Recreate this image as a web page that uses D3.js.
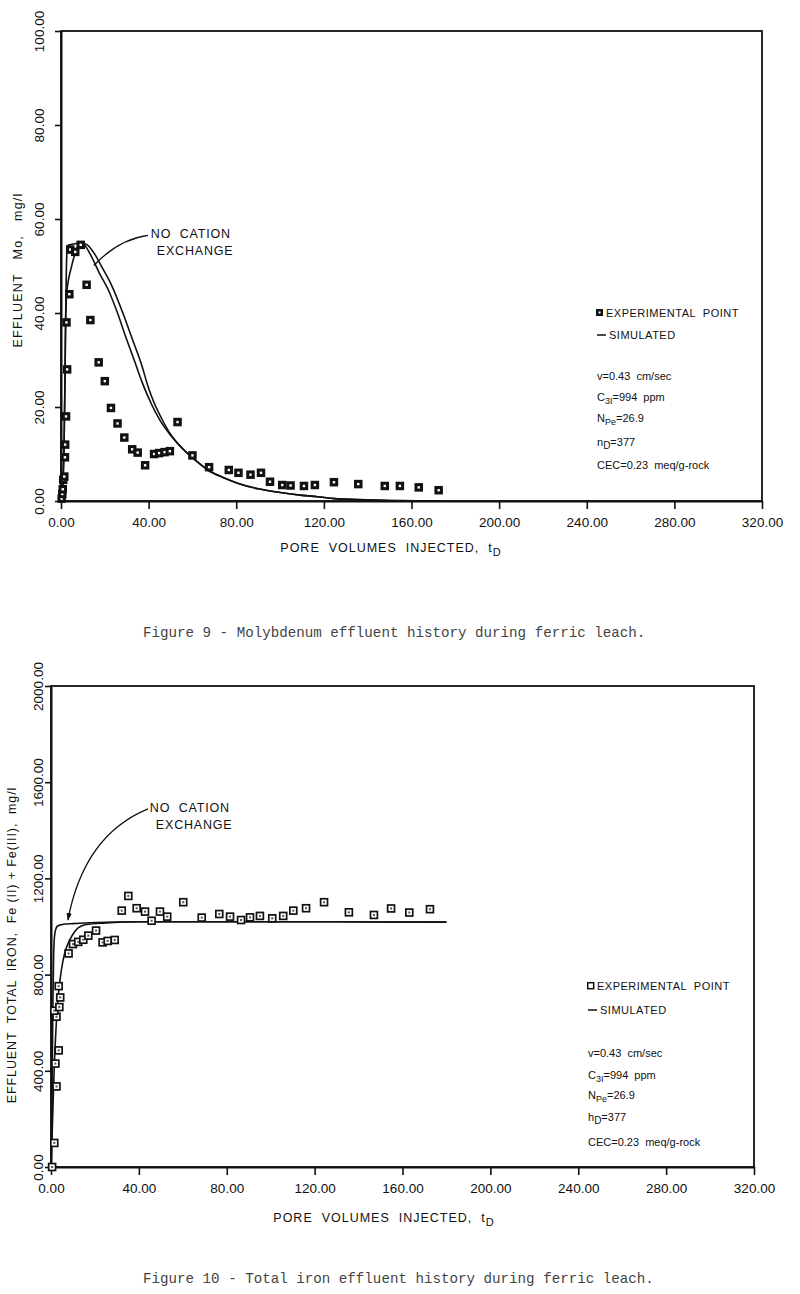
<!DOCTYPE html>
<html><head><meta charset="utf-8">
<script src="https://cdn.jsdelivr.net/npm/d3@7"></script>
<style>
body{margin:0;background:#fff}
svg{display:block}
text{font-family:"Liberation Sans",Arial,sans-serif;fill:#111}
.cap{font-family:"Liberation Mono","Courier New",monospace;fill:#444}
</style>
</head><body>
<script>
// ---------------- data ----------------
const xTicks = [0, 40, 80, 120, 160, 200, 240, 280, 320];
const xTickLabels = ["0.00","40.00","80.00","120.00","160.00","200.00","240.00","280.00","320.00"];
const moTicks = [0, 20, 40, 60, 80, 100];
const moTickLabels = ["0.00","20.00","40.00","60.00","80.00","100.00"];
const feTicks = [0, 400, 800, 1200, 1600, 2000];
const feTickLabels = ["0.00","400.00","800.00","1200.00","1600.00","2000.00"];

// Figure 9: Mo effluent, experimental points [t_D, mg/l]
const moExperimental = [
 [0.3,0.5],[0.6,1.5],[0.8,2.5],[1.0,4.5],[1.5,5.2],[1.8,9.3],[1.9,12],[2.3,18],[2.8,28],[2.5,38],
 [3.8,44],[4.2,53.5],[6.5,53],[9,54.5],[11.7,46],[13.4,38.5],[17.2,29.5],[20,25.5],[22.8,19.8],
 [25.8,16.5],[28.9,13.5],[32.5,11],[35,10.3],[38.4,7.6],[42.5,10],[44.8,10.2],[47.3,10.4],
 [49.7,10.6],[53.2,16.8],[60,9.7],[67.6,7.2],[76.6,6.6],[81,6],[86.5,5.6],[91.3,6],[95.4,4.1],
 [101,3.4],[104.8,3.3],[110.9,3.2],[115.9,3.4],[124.6,4],[135.7,3.6],[147.8,3.2],[154.7,3.2],
 [163.3,2.9],[172.4,2.3]
];
// simulated, with cation exchange
const moSimulated = [
 [0,0],[0.5,1.5],[1,5],[1.4,12],[1.8,25],[2.1,38],[2.4,48],[2.7,53],[3.2,54.4],[5,54.6],[7,54.8],
 [9,55],[11,54.3],[13.7,52.2],[17.5,48.5],[21.5,45],[25.8,40],[29.5,35],[33.4,30],[37,25.3],
 [41,20.9],[45,17.3],[50,14],[56,10.9],[61,8.8],[67,6.6],[74,5],[80.6,3.8],[90,2.6],[101.6,1.7],
 [110,1.2],[117,0.9],[125,0.5],[135,0.3],[150,0.1],[175,0]
];
// simulated, no cation exchange
const moSimNoExchange = [
 [0,0],[0.5,1.5],[1,5],[1.4,12],[1.8,25],[2.1,38],[2.5,43.5],[3.2,46.5],[4.6,49.5],[6,52],
 [7.5,54],[9,55],[12,54.5],[15,52.8],[19,49.5],[23,46],[28.8,39.3],[32.5,34.5],[36.5,29.4],
 [40,24],[42.5,20.9],[46,17.5],[50,14.2],[56,10.9],[61,8.8],[67,6.6],[74,5],[80.6,3.8],[90,2.6],
 [101.6,1.7],[110,1.2],[117,0.9],[125,0.5],[135,0.3],[150,0.1],[175,0]
];

// Figure 10: total iron effluent, experimental points [t_D, mg/l]
const feExperimental = [
 [0.5,0],[1.5,100],[2.5,335],[2.0,430],[3.5,485],[2.5,625],[1.5,650],[3.8,665],[4.2,705],[3.5,752],
 [8,888],[10,927],[12.4,936],[14.7,945],[17,962],[20.5,983],[23.5,934],[25.8,940],[29,944],
 [32.2,1066],[35.2,1127],[39,1076],[42.8,1062],[45.8,1024],[49.6,1062],[52.9,1041],[60.2,1101],
 [68.6,1037],[76.6,1052],[81.5,1041],[86.5,1027],[90.6,1038],[95.1,1044],[100.7,1034],[105.7,1044],
 [110.3,1066],[116.1,1076],[124.3,1101],[135.6,1059],[147,1048],[154.8,1075],[163.1,1058],[172.5,1072]
];
const feSimNoExchange = [
 [0,0],[0.3,150],[0.6,420],[0.9,700],[1.2,880],[1.6,960],[2.2,990],[3,1002],[5,1008],[10,1012],
 [20,1016],[40,1020],[80,1020],[120,1020],[150,1019],[180,1018]
];
const feSimulated = [
 [0,0],[0.5,130],[1,280],[1.5,420],[2.2,560],[3,680],[4,770],[5.5,860],[7,912],[8.6,945],
 [10.5,975],[12.5,995],[16,1008],[25,1015],[40,1020],[80,1020],[120,1020],[150,1019],[180,1018]
];

// annotation leader lines, in data units: start, control, end
const moAnnot = {text:[41,56], line:[[39.7,56.5],[26,55.6],[15,50.1]]};
const feAnnot = {text:[45,1475], line:[[44.2,1489],[15,1380],[7.7,1027]]};

// ---------------- drawing ----------------
const svg = d3.select("body").append("svg").attr("width",800).attr("height",1294);
const defs = svg.append("defs");
defs.append("marker").attr("id","arr").attr("viewBox","0 0 10 10").attr("refX",9).attr("refY",5)
  .attr("markerWidth",6).attr("markerHeight",6).attr("orient","auto")
  .append("path").attr("d","M0,1.5 L10,5 L0,8.5 Z").attr("fill","#111");

function panel(cfg){
  const g = svg.append("g");
  const x = d3.scaleLinear([0,320],[cfg.left,cfg.right]);
  const y = d3.scaleLinear(cfg.yDomain,[cfg.bottom,cfg.top]);

  // frame
  g.append("rect").attr("x",cfg.left).attr("y",cfg.top).attr("width",cfg.right-cfg.left)
   .attr("height",cfg.bottom-cfg.top).attr("fill","none").attr("stroke","#111").attr("stroke-width",1.8);

  // x axis
  const xa = g.append("g").attr("transform",`translate(0,${cfg.bottom})`)
    .call(d3.axisBottom(x).tickValues(xTicks).tickFormat((d,i)=>xTickLabels[i]).tickSize(8).tickSizeOuter(0).tickPadding(8));
  xa.select(".domain").attr("stroke-width",2).attr("stroke","#111");
  xa.selectAll(".tick line").attr("stroke-width",1.6).attr("stroke","#111");
  xa.selectAll(".tick text").attr("font-size",13.5).attr("font-family","Liberation Sans, Arial, sans-serif").attr("fill","#111");

  // y axis
  const ya = g.append("g").attr("transform",`translate(${cfg.left},0)`)
    .call(d3.axisLeft(y).tickValues(cfg.yTicks).tickFormat((d,i)=>cfg.yLabels[i]).tickSize(6).tickSizeOuter(0));
  ya.select(".domain").attr("stroke-width",2).attr("stroke","#111");
  ya.selectAll(".tick line").attr("stroke-width",1.6).attr("stroke","#111");
  ya.selectAll(".tick text").attr("font-size",13.5).attr("font-family","Liberation Sans, Arial, sans-serif")
    .attr("fill","#111").attr("transform","rotate(-90)").attr("x",0).attr("y",cfg.yLabOff)
    .attr("dy","0.35em").attr("text-anchor","middle");

  // axis titles
  const xt = g.append("text").attr("x",cfg.xTitle[0]).attr("y",cfg.xTitle[1]).attr("text-anchor","middle")
    .attr("font-size",12.5).attr("letter-spacing",1).style("white-space","pre");
  xt.append("tspan").text("PORE  VOLUMES  INJECTED,  t");
  xt.append("tspan").attr("dy",4).attr("font-size",11).text("D");

  g.append("text").attr("transform",`translate(${cfg.yTitle[0]},${cfg.yTitle[1]}) rotate(-90)`)
    .attr("text-anchor","middle").attr("font-size",12.5).attr("letter-spacing",cfg.yTitleLS)
    .style("white-space","pre").text(cfg.yTitleText);

  // simulated curves
  const line = d3.line().x(d=>x(d[0])).y(d=>y(d[1])).curve(d3.curveMonotoneX);
  cfg.sims.forEach(s=>{
    g.append("path").datum(s).attr("d",line).attr("fill","none").attr("stroke","#111").attr("stroke-width",1.6);
  });

  // experimental points
  const m = 8.5;
  const pts = g.selectAll(null).data(cfg.exp).enter().append("g")
    .attr("transform",d=>`translate(${x(d[0])},${y(d[1])})`);
  if(cfg.filled){
    pts.append("rect").attr("x",-m/2).attr("y",-m/2).attr("width",m).attr("height",m).attr("fill","#111");
    pts.append("rect").attr("x",-1.2).attr("y",-1.2).attr("width",2.4).attr("height",2.4).attr("fill","#fff");
  } else {
    pts.append("rect").attr("x",-m/2+0.8).attr("y",-m/2+0.8).attr("width",m-1.6).attr("height",m-1.6)
      .attr("fill","#fff").attr("stroke","#111").attr("stroke-width",1.7);
    pts.append("rect").attr("x",-1).attr("y",-1).attr("width",2).attr("height",2).attr("fill","#555");
  }

  // annotation
  const a = cfg.annot;
  const L = a.line.map(p=>[x(p[0]),y(p[1])]);
  const ap = g.append("path").attr("d",`M${L[0][0]},${L[0][1]} Q${L[1][0]},${L[1][1]} ${L[2][0]},${L[2][1]}`)
    .attr("fill","none").attr("stroke","#111").attr("stroke-width",1.3);
  if(cfg.arrow) ap.attr("marker-end","url(#arr)");
  const tx = x(a.text[0]), ty = y(a.text[1]);
  g.append("text").attr("x",tx).attr("y",ty).attr("font-size",12.5).attr("letter-spacing",0.8)
    .style("white-space","pre").text("NO  CATION");
  g.append("text").attr("x",tx+6).attr("y",ty+17).attr("font-size",12.5).attr("letter-spacing",0.8).text("EXCHANGE");

  // legend
  const lg = g.append("g").attr("transform",`translate(${cfg.legend[0]},0)`);
  const ly = cfg.legendY;
  if(cfg.filled){
    lg.append("rect").attr("x",0).attr("y",ly[0]-8).attr("width",7).attr("height",7).attr("fill","#111");
    lg.append("rect").attr("x",2.5).attr("y",ly[0]-5.5).attr("width",2).attr("height",2).attr("fill","#fff");
  } else {
    lg.append("rect").attr("x",0.7).attr("y",ly[0]-7.3).attr("width",6).attr("height",6).attr("fill","#fff")
      .attr("stroke","#111").attr("stroke-width",1.5);
  }
  lg.append("text").attr("x",10).attr("y",ly[0]).attr("font-size",11).attr("letter-spacing",0.5)
    .style("white-space","pre").text("EXPERIMENTAL  POINT");
  lg.append("line").attr("x1",1).attr("x2",10).attr("y1",ly[1]-4).attr("y2",ly[1]-4).attr("stroke","#111").attr("stroke-width",1.5);
  lg.append("text").attr("x",13).attr("y",ly[1]).attr("font-size",11).attr("letter-spacing",0.5).text("SIMULATED");
  const fs = 11;
  lg.append("text").attr("x",1).attr("y",ly[2]).attr("font-size",fs).style("white-space","pre").text("v=0.43  cm/sec");
  const c3 = lg.append("text").attr("x",1).attr("y",ly[3]).attr("font-size",fs).style("white-space","pre");
  c3.append("tspan").text("C");
  c3.append("tspan").attr("dy",3).attr("font-size",9).text("3I");
  c3.append("tspan").attr("dy",-3).text("=994  ppm");
  const np = lg.append("text").attr("x",1).attr("y",ly[4]).attr("font-size",fs);
  np.append("tspan").text("N");
  np.append("tspan").attr("dy",3).attr("font-size",9).text("Pe");
  np.append("tspan").attr("dy",-3).text("=26.9");
  const nd = lg.append("text").attr("x",1).attr("y",ly[5]).attr("font-size",fs);
  nd.append("tspan").text(cfg.nSym);
  nd.append("tspan").attr("dy",3).attr("font-size",10).text("D");
  nd.append("tspan").attr("dy",-3).text("=377");
  lg.append("text").attr("x",1).attr("y",ly[6]).attr("font-size",fs).style("white-space","pre").text("CEC=0.23  meq/g-rock");

  // caption
  svg.append("text").attr("class","cap").attr("x",cfg.caption[0]).attr("y",cfg.caption[1])
    .attr("font-size",14.2).text(cfg.captionText);
}

panel({
  left:61, right:762, top:31, bottom:501, yDomain:[0,100], yTicks:moTicks, yLabels:moTickLabels, yLabOff:-22,
  xTitle:[391,552], yTitle:[22,270], yTitleText:"EFFLUENT   Mo,   mg/l", yTitleLS:1.2,
  sims:[moSimulated, moSimNoExchange], exp:moExperimental, filled:true,
  annot:moAnnot, arrow:false, legend:[596,0], legendY:[317,339,380,401,422,446,469], nSym:"n",
  caption:[143,637], captionText:"Figure 9 - Molybdenum effluent history during ferric leach."
});
panel({
  left:51, right:754, top:686, bottom:1167, yDomain:[0,2000], yTicks:feTicks, yLabels:feTickLabels, yLabOff:-13,
  xTitle:[384,1222], yTitle:[16,945], yTitleText:"EFFLUENT  TOTAL  IRON,  Fe (II) + Fe(III),  mg/l", yTitleLS:0.9,
  sims:[feSimulated, feSimNoExchange], exp:feExperimental, filled:false,
  annot:feAnnot, arrow:true, legend:[587,0], legendY:[990,1014,1057,1079,1099,1121,1146], nSym:"h",
  caption:[143,1283], captionText:"Figure 10 - Total iron effluent history during ferric leach."
});
</script>
</body></html>
